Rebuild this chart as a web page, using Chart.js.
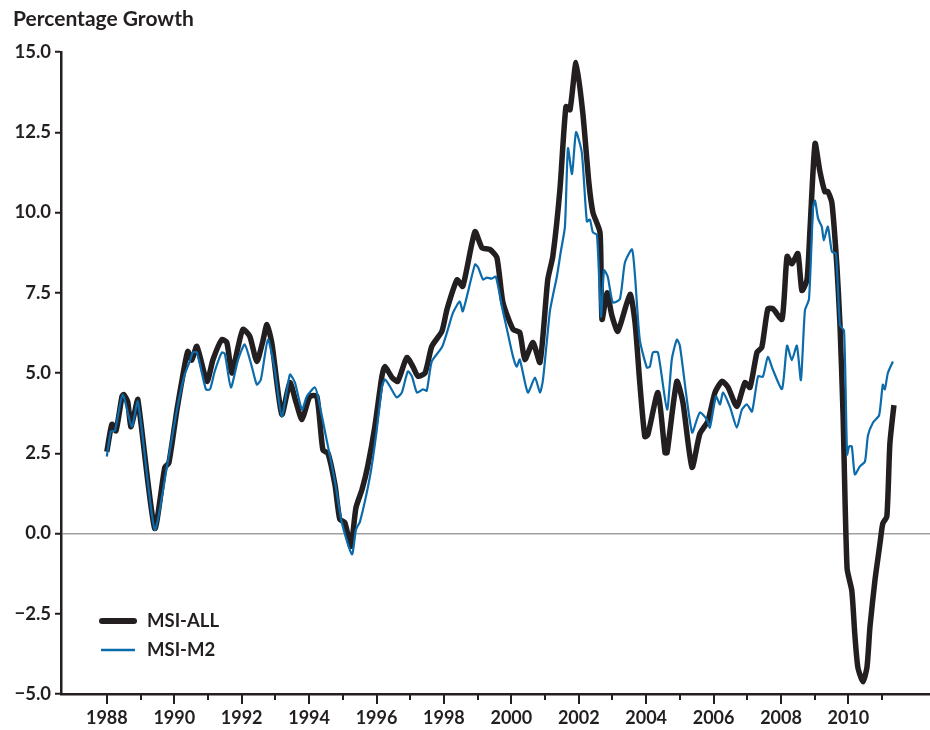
<!DOCTYPE html>
<html>
<head>
<meta charset="utf-8">
<script src="https://cdn.jsdelivr.net/npm/chart.js@4.4.1/dist/chart.umd.min.js"></script>
<style>
  html, body { margin: 0; padding: 0; background: #fff; }
  #wrap { width: 930px; height: 730px; }
</style>
</head>
<body>
<div id="wrap"><canvas id="growth"></canvas></div>
<script>
// values (decimal years)
var allYears = [1988.00,1988.15,1988.27,1988.45,1988.50,1988.62,1988.71,1988.83,1988.92,1989.42,1989.72,1989.84,
  1990.08,1990.25,1990.40,1990.52,1990.67,1990.97,1991.15,1991.41,1991.56,1991.71,1991.89,1992.04,1992.24,1992.45,
  1992.63,1992.75,1992.90,1993.19,1993.43,1993.61,1993.79,1994.02,1994.23,1994.41,1994.56,1994.77,1994.91,1995.06,
  1995.24,1995.39,1995.57,1995.74,1995.95,1996.16,1996.25,1996.46,1996.63,1996.90,1997.08,1997.23,1997.44,1997.64,
  1997.94,1998.09,1998.39,1998.56,1998.92,1999.13,1999.36,1999.57,1999.75,2000.05,2000.25,2000.40,2000.64,2000.85,
  2001.08,2001.23,2001.44,2001.62,2001.74,2001.92,2002.12,2002.30,2002.42,2002.63,2002.69,2002.84,2002.98,2003.16,
  2003.52,2003.67,2003.81,2003.96,2004.05,2004.35,2004.56,2004.62,2004.91,2005.09,2005.36,2005.59,2005.83,2006.04,
  2006.25,2006.43,2006.69,2006.93,2007.08,2007.29,2007.43,2007.61,2007.76,2008.03,2008.18,2008.32,2008.50,2008.62,
  2008.77,2008.86,2009.01,2009.15,2009.30,2009.39,2009.51,2009.66,2009.75,2009.84,2009.96,2010.10,2010.19,2010.28,
  2010.43,2010.55,2010.64,2010.79,2010.94,2011.02,2011.14,2011.23,2011.35];
var allValues = [2.55,3.4,3.2,4.27,4.33,4.1,3.33,3.8,4.17,0.16,2.06,2.2,
  3.86,4.9,5.67,5.4,5.83,4.74,5.42,6.04,5.95,5.0,5.8,6.36,6.14,5.36,
  6.0,6.51,5.9,3.71,4.7,4.1,3.55,4.27,4.27,2.6,2.5,1.5,0.44,0.34,
  -0.4,0.8,1.37,2.1,3.33,4.9,5.2,4.86,4.74,5.48,5.2,4.9,5.0,5.83,
  6.3,6.98,7.9,7.7,9.4,8.9,8.85,8.6,7.2,6.36,6.26,5.42,5.95,5.33,
  7.9,8.63,10.7,13.3,13.2,14.67,13.1,10.93,10.0,9.38,6.67,7.5,6.8,6.3,
  7.45,6.57,4.7,3.02,3.08,4.39,2.52,2.52,4.74,4.08,2.06,3.1,3.5,4.39,
  4.74,4.55,3.96,4.7,4.55,5.65,5.8,7.0,7.0,6.67,8.63,8.4,8.72,7.57,
  7.9,9.47,12.15,11.3,10.65,10.65,10.3,8.3,6.48,3.74,-1.09,-1.78,-3.15,-4.17,
  -4.62,-4.17,-2.9,-1.43,-0.28,0.31,0.53,2.8,4.0];

var m2Years = [1988.00,1988.12,1988.24,1988.47,1988.74,1988.92,1989.42,1989.78,1990.08,1990.31,1990.46,1990.55,
  1990.67,1990.94,1991.06,1991.20,1991.41,1991.50,1991.68,1991.89,1992.09,1992.30,1992.45,1992.57,1992.78,1992.98,
  1993.19,1993.43,1993.58,1993.79,1993.93,1994.17,1994.26,1994.53,1994.77,1994.97,1995.27,1995.39,1995.51,1995.80,
  1995.98,1996.16,1996.25,1996.40,1996.60,1996.75,1996.93,1997.05,1997.20,1997.38,1997.49,1997.64,1997.94,1998.09,
  1998.27,1998.47,1998.56,1998.92,1999.01,1999.16,1999.27,1999.42,1999.54,1999.72,1999.87,2000.05,2000.16,2000.25,
  2000.49,2000.70,2000.85,2000.94,2001.14,2001.23,2001.35,2001.47,2001.59,2001.68,2001.80,2001.92,2002.09,2002.24,
  2002.33,2002.42,2002.54,2002.66,2002.75,2002.86,2003.01,2003.22,2003.37,2003.58,2003.67,2003.81,2004.02,2004.11,
  2004.20,2004.35,2004.62,2004.76,2004.91,2005.00,2005.36,2005.59,2005.80,2005.89,2006.07,2006.19,2006.28,2006.49,
  2006.69,2006.84,2006.99,2007.14,2007.32,2007.46,2007.61,2007.76,2008.03,2008.18,2008.32,2008.47,2008.59,2008.71,
  2008.83,2008.95,2009.01,2009.10,2009.21,2009.27,2009.39,2009.51,2009.63,2009.75,2009.87,2009.96,2010.02,2010.10,
  2010.19,2010.34,2010.49,2010.58,2010.73,2010.91,2011.02,2011.08,2011.17,2011.32];
var m2Values = [2.4,3.18,3.2,4.33,3.33,4.11,0.12,2.06,3.86,4.95,5.36,5.64,
  5.64,4.49,4.49,5.05,5.64,5.6,4.55,5.4,5.89,5.2,4.64,4.8,6.04,5.11,
  3.64,4.95,4.7,3.86,4.27,4.55,4.27,2.87,1.6,0.34,-0.65,0.12,0.37,1.74,
  3.0,4.55,4.8,4.58,4.24,4.39,5.05,4.9,4.39,4.49,4.45,5.36,5.8,6.26,
  6.88,7.23,6.92,8.38,8.3,7.91,7.97,7.94,8.0,7.07,6.36,5.51,5.2,5.42,
  4.39,4.86,4.39,4.8,6.9,7.4,8.0,8.8,9.56,12.0,11.2,12.5,11.87,9.72,
  9.78,9.38,9.3,6.76,8.2,8.0,7.2,7.3,8.44,8.85,8.0,6.04,5.17,5.2,
  5.64,5.64,3.86,5.42,6.04,5.85,3.15,3.77,3.55,3.3,4.27,4.02,4.39,3.93,
  3.3,3.86,4.02,3.8,4.9,4.88,5.5,5.1,4.5,5.85,5.4,5.85,4.78,6.95,
  7.3,10.15,10.37,9.81,9.56,9.13,9.56,8.78,8.72,6.48,6.32,2.46,2.71,2.71,
  1.84,2.09,2.24,3.05,3.46,3.68,4.64,4.49,5.0,5.36];

var tickYears = [1988,1989,1990,1991,1992,1993,1994,1995,1996,1997,1998,1999,
  2000,2001,2002,2003,2004,2005,2006,2007,2008,2009,2010,2011];
var yTicks = [-5, -2.5, 0, 2.5, 5, 7.5, 10, 12.5, 15];

var INK = '#231f20';
var BLUE = '#0b6bab';
var FONT = 'Lato, "Open Sans", sans-serif';

function pairs(xs, ys) {
  return xs.map(function(x, i) { return { x: x, y: ys[i] }; });
}

// title, year tick marks and legend
var decorations = {
  id: 'decorations',
  afterDraw: function(chart) {
    var ctx = chart.ctx;
    var xs = chart.scales.x;
    var bottom = chart.chartArea.bottom;
    ctx.save();

    ctx.strokeStyle = INK;
    ctx.lineWidth = 2;
    tickYears.forEach(function(yr) {
      var px = Math.round(xs.getPixelForValue(yr));
      ctx.beginPath();
      ctx.moveTo(px, bottom);
      ctx.lineTo(px, bottom + (yr % 2 === 0 ? 10 : 6));
      ctx.stroke();
    });

    ctx.fillStyle = INK;
    ctx.font = 'bold 21px ' + FONT;
    ctx.textAlign = 'left';
    ctx.textBaseline = 'middle';
    ctx.fillText('Percentage Growth', 13, 19);

    ctx.lineCap = 'round';
    ctx.lineWidth = 6;
    ctx.beginPath(); ctx.moveTo(102, 621); ctx.lineTo(134, 621); ctx.stroke();
    ctx.strokeStyle = BLUE;
    ctx.lineWidth = 2.5;
    ctx.lineCap = 'butt';
    ctx.beginPath(); ctx.moveTo(101, 650); ctx.lineTo(135, 650); ctx.stroke();

    ctx.font = 'bold 18.5px ' + FONT;
    ctx.fillText('MSI-ALL', 147, 621);
    ctx.fillText('MSI-M2', 147, 650);
    ctx.restore();
  }
};

var chart = new Chart(document.getElementById('growth'), {
  type: 'line',
  data: {
    datasets: [{
      label: 'MSI-ALL',
      data: pairs(allYears, allValues),
      borderColor: INK,
      borderWidth: 5.5,
      pointRadius: 0,
      tension: 0.2,
      order: 2
    }, {
      label: 'MSI-M2',
      data: pairs(m2Years, m2Values),
      borderColor: BLUE,
      borderWidth: 2.2,
      pointRadius: 0,
      tension: 0.2,
      order: 1
    }]
  },
  options: {
    responsive: true,
    maintainAspectRatio: false,
    animation: false,
    layout: { padding: { top: 52, right: 0, left: 0, bottom: 0 } },
    plugins: {
      legend: { display: false },
      tooltip: { enabled: false },
      title: { display: false }
    },
    scales: {
      x: {
        type: 'linear',
        min: 1986.64,
        max: 2012.42,
        afterBuildTicks: function(scale) {
          scale.ticks = tickYears.map(function(v) { return { value: v }; });
        },
        afterFit: function(scale) { scale.height = 36; },
        grid: { display: false, drawTicks: false },
        border: { display: true, color: INK, width: 2.5 },
        ticks: {
          autoSkip: false,
          maxRotation: 0,
          padding: 13,
          color: INK,
          font: { family: FONT, size: 18, weight: 'bold' },
          callback: function(v) { return v % 2 === 0 ? String(v) : ''; }
        }
      },
      y: {
        min: -5,
        max: 15,
        afterBuildTicks: function(scale) {
          scale.ticks = yTicks.map(function(v) { return { value: v }; });
        },
        afterFit: function(scale) { scale.width = 61; },
        grid: {
          drawOnChartArea: true,
          color: function(c) { return c.tick && c.tick.value === 0 ? '#a0a0a0' : 'rgba(0,0,0,0)'; },
          lineWidth: 1.5,
          tickColor: INK,
          tickWidth: 2,
          tickLength: 6
        },
        border: { display: true, color: INK, width: 2.5 },
        ticks: {
          padding: 4,
          color: INK,
          font: { family: FONT, size: 18.5, weight: 'bold' },
          callback: function(v) { return (v < 0 ? '\u2212' + Math.abs(v).toFixed(1) : v.toFixed(1)); }
        }
      }
    }
  },
  plugins: [decorations]
});
</script>
</body>
</html>
